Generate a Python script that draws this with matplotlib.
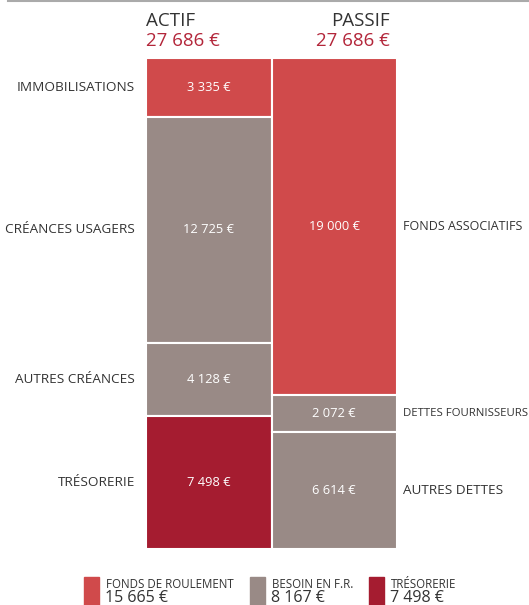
import matplotlib
matplotlib.use("Agg")
import matplotlib.pyplot as plt
from matplotlib.patches import Rectangle
import matplotlib.transforms as mtransforms

plt.rcParams['font.family'] = ['Open Sans', 'DejaVu Sans']

RED = '#d04a4b'
GREY = '#998a86'
DARK = '#a51c30'
TXT = '#333333'
TITLE_RED = '#b3263a'

actif_labels = ['IMMOBILISATIONS', 'CRÉANCES USAGERS', 'AUTRES CRÉANCES', 'TRÉSORERIE']
actif_values = [3335, 12725, 4128, 7498]
actif_colors = [RED, GREY, GREY, DARK]

passif_labels = ['FONDS ASSOCIATIFS', 'DETTES FOURNISSEURS', 'AUTRES DETTES']
passif_values = [19000, 2072, 6614]
passif_colors = [RED, GREY, GREY]

legend_labels = ['FONDS DE ROULEMENT', 'BESOIN EN F.R.', 'TRÉSORERIE']
legend_values = [15665, 8167, 7498]
legend_colors = [RED, GREY, DARK]


def euro(v):
    return '{:,}'.format(v).replace(',', ' ') + ' €'


W, H = 529, 605
fig = plt.figure(figsize=(W / 100, H / 100), dpi=100)
fig.patch.set_facecolor('white')

# top rule of the page
fig.add_artist(plt.Line2D([8 / W, 1], [1 - 1 / H, 1 - 1 / H], color='#aaaaaa', lw=1.5))

ax = fig.add_axes([146 / W, 1 - 549 / H, 251 / W, 491 / H])
total = sum(actif_values)
ax.set_xlim(0, 2)
ax.set_ylim(total, 0)
ax.axis('off')

tl = mtransforms.blended_transform_factory(ax.transAxes, ax.transData)

bottom = 0
for lab, v, c in zip(actif_labels, actif_values, actif_colors):
    ax.bar(0.5, v, bottom=bottom, width=1, color=c, edgecolor='white', linewidth=1.5)
    mid = bottom + v / 2
    ax.text(0.5, mid, euro(v), color='white', ha='center', va='center', fontsize=9.3)
    ax.text(-0.044, mid, lab, color=TXT, ha='right', va='center', fontsize=9.7, transform=tl)
    bottom += v

# right-hand labels a bit smaller so they stay inside the page
right_sizes = [9.0, 8.2, 9.7]
bottom = 0
for lab, v, c, fs in zip(passif_labels, passif_values, passif_colors, right_sizes):
    ax.bar(1.5, v, bottom=bottom, width=1, color=c, edgecolor='white', linewidth=1.5)
    mid = bottom + v / 2
    ax.text(1.5, mid, euro(v), color='white', ha='center', va='center', fontsize=9.3)
    ax.text(1.024, mid, lab, color=TXT, ha='left', va='center',
            fontsize=fs, transform=tl, clip_on=False)
    bottom += v

# column headers
fig.text(146 / W, 1 - 21 / H, 'ACTIF', color=TXT, fontsize=13.5, ha='left', va='center')
fig.text(146 / W, 1 - 41 / H, euro(sum(actif_values)), color=TITLE_RED, fontsize=13.5,
         ha='left', va='center')
fig.text(390 / W, 1 - 21 / H, 'PASSIF', color=TXT, fontsize=13.5, ha='right', va='center')
fig.text(390 / W, 1 - 41 / H, euro(sum(passif_values)), color=TITLE_RED, fontsize=13.5,
         ha='right', va='center')

# legend
leg_x = [84, 250, 369]
for x, lab, v, c in zip(leg_x, legend_labels, legend_values, legend_colors):
    fig.add_artist(Rectangle((x / W, 0), 15 / W, 28 / H, color=c, transform=fig.transFigure))
    fig.text((x + 22) / W, 1 - 584 / H, lab, color=TXT, fontsize=8.3, ha='left', va='center')
    fig.text((x + 21) / W, 1 - 598 / H, euro(v), color=TXT, fontsize=11.5, ha='left', va='center')

fig.savefig('out.png', dpi=100)
